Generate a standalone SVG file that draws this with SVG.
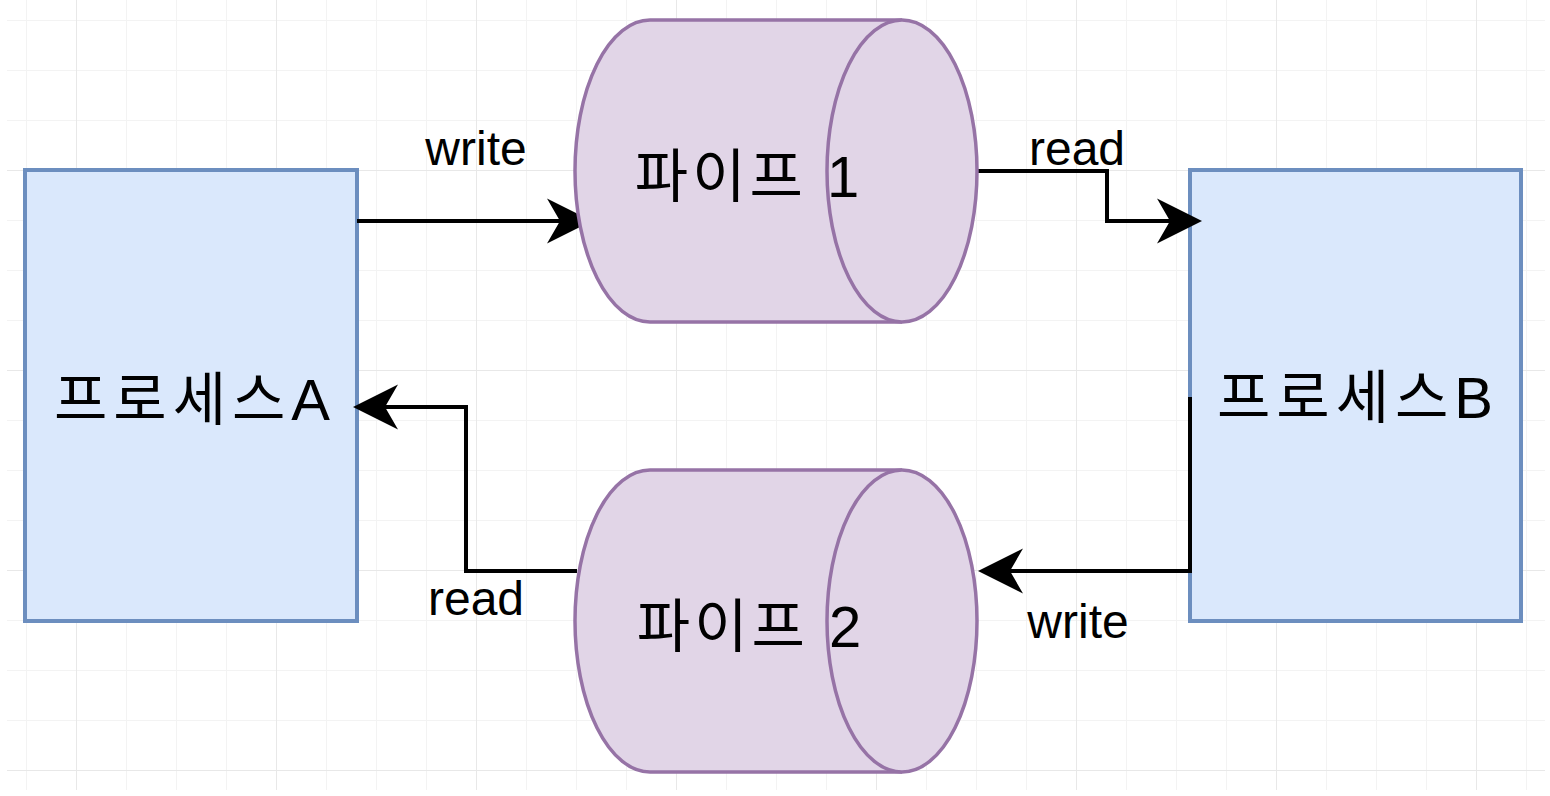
<svg xmlns="http://www.w3.org/2000/svg" width="1550" height="796" viewBox="0 0 1550 796">
  <style>
    .proc { fill: #dae8fc; stroke: #6c8ebf; stroke-width: 4; }
    .pipe { fill: #e1d5e7; stroke: #9673a6; stroke-width: 3.5; }
    .edge { fill: none; stroke: #000; stroke-width: 4; marker-end: url(#arrow); }
    .big { font-family: "Liberation Sans", "Noto Sans CJK KR", sans-serif; font-size: 58px; fill: #000; text-anchor: middle; }
    .ps { letter-spacing: 6px; }
    .pp { letter-spacing: 4px; }
    .lbl { font-family: "Liberation Sans", "Noto Sans CJK KR", sans-serif; font-size: 48px; fill: #000; text-anchor: middle; }
  </style>
  <defs>
    <pattern id="minor" patternUnits="userSpaceOnUse" x="26" y="20" width="50" height="50">
      <path d="M0.5 0 V50 M0 0.5 H50" fill="none" stroke="#f3f3f3" stroke-width="1"/>
    </pattern>
    <pattern id="major" patternUnits="userSpaceOnUse" x="76" y="170" width="200" height="200">
      <path d="M0.5 0 V200 M0 0.5 H200" fill="none" stroke="#e8e8e8" stroke-width="1"/>
    </pattern>
    <marker id="arrow" markerUnits="userSpaceOnUse" markerWidth="46" markerHeight="46" viewBox="0 0 46 46" refX="13" refY="23" orient="auto">
      <path d="M0 0.5 L45 23 L0 45.5 L13 23 Z" fill="#000"/>
    </marker>
  </defs>
  <rect x="0" y="0" width="1550" height="796" fill="#fff"/>
  <rect x="7" y="0" width="1538" height="790" fill="url(#minor)"/>
  <rect x="7" y="0" width="1538" height="790" fill="url(#major)"/>

  <g id="processA">
    <rect class="proc" x="25" y="170" width="332" height="451"/>
    <text class="big ps" x="195" y="420">프로세스A</text>
  </g>
  <g id="processB">
    <rect class="proc" x="1190" y="170" width="331" height="451"/>
    <text class="big ps" x="1358" y="418">프로세스B</text>
  </g>

  <g id="connectors">
    <path class="edge" d="M357 221 L560 221"/>
    <path class="edge" d="M978 171 L1107 171 L1107 221 L1170 221"/>
    <path class="edge" d="M1190 397 L1190 571 L1010 571"/>
    <path class="edge" d="M577 571 L466 571 L466 407 L385 407"/>
    <text class="lbl" x="476" y="165">write</text>
    <text class="lbl" x="1077" y="165">read</text>
    <text class="lbl" x="476" y="615">read</text>
    <text class="lbl" x="1078" y="638">write</text>
  </g>

  <g id="pipe1">
    <path class="pipe" d="M650 20 L902 20 A75 151 0 0 1 902 322 L650 322 A75 151 0 0 1 650 20 Z"/>
    <path class="pipe" fill="none" d="M902 20 A75 151 0 0 0 902 322"/>
    <text class="big pp" x="749" y="197">파이프 1</text>
  </g>
  <g id="pipe2">
    <path class="pipe" d="M650 470 L902 470 A75 151 0 0 1 902 772 L650 772 A75 151 0 0 1 650 470 Z"/>
    <path class="pipe" fill="none" d="M902 470 A75 151 0 0 0 902 772"/>
    <text class="big pp" x="751" y="647">파이프 2</text>
  </g>
</svg>
